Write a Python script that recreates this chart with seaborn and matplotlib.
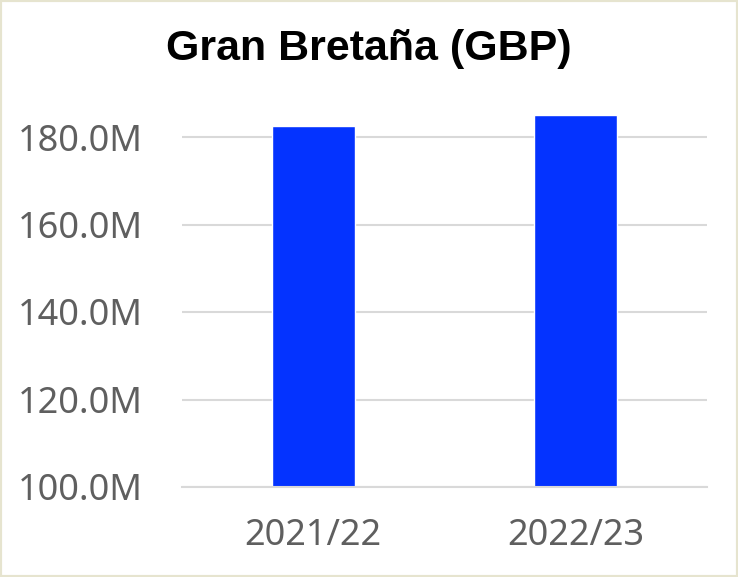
import matplotlib
matplotlib.use("Agg")
import matplotlib.pyplot as plt
import matplotlib.ticker as mticker
from matplotlib.patches import Rectangle
import pandas as pd
import seaborn as sns

# Datos
TEMPORADAS = ["2021/22", "2022/23"]
VALORES = [182.5e6, 185.0e6]
TITULO = "Gran Bretaña (GBP)"

df = pd.DataFrame({"temporada": TEMPORADAS, "valor": VALORES})

sns.set_theme(style="white")
plt.rcParams["font.family"] = ["Noto Sans", "DejaVu Sans"]

fig = plt.figure(figsize=(7.38, 5.77), dpi=100)
ax = fig.add_axes([182 / 738, 1 - 487 / 577, 525 / 738, 387 / 577])

sns.barplot(data=df, x="temporada", y="valor", color="#0433ff",
            width=0.316, saturation=1, ax=ax)

ax.set_ylim(100e6, 100e6 + 387 / 4.375 * 1e6)
ax.set_yticks([100e6, 120e6, 140e6, 160e6, 180e6])
ax.yaxis.set_major_formatter(mticker.FuncFormatter(lambda v, p: f"{v / 1e6:.1f}M"))
ax.grid(axis="y", color="#d9d9d9", linewidth=1.5)
ax.set_axisbelow(True)
for s in ["top", "right", "left"]:
    ax.spines[s].set_visible(False)
ax.spines["bottom"].set_color("#d9d9d9")
ax.spines["bottom"].set_linewidth(1.5)
ax.set_xlabel("")
ax.set_ylabel("")
ax.tick_params(axis="both", length=0, labelsize=26, labelcolor="#5f5f5f")
ax.tick_params(axis="y", pad=28)
ax.tick_params(axis="x", pad=22)
for lbl in ax.get_xticklabels() + ax.get_yticklabels():
    lbl.set_fontweight("light")

fig.text(0.5, 1 - 49 / 577, TITULO, ha="center", va="center",
         fontsize=31, fontweight="bold", color="black",
         family=["Liberation Sans", "DejaVu Sans"])

fig.patches.append(Rectangle((0, 0), 1, 1, transform=fig.transFigure,
                             fill=False, edgecolor="#e6e4cf", linewidth=3))

fig.savefig("out.png", dpi=100, facecolor="white")
